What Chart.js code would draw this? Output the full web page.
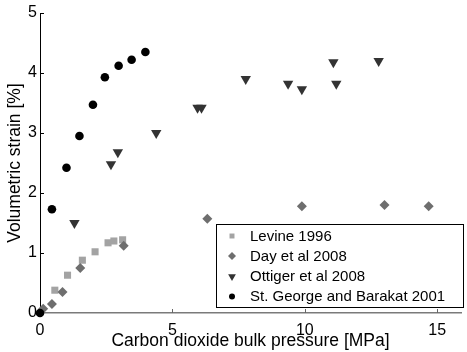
<!DOCTYPE html>
<html>
<head>
<meta charset="utf-8">
<script src="https://cdn.jsdelivr.net/npm/chart.js@4/dist/chart.umd.min.js"></script>
<style>
  html, body { margin: 0; padding: 0; background: #fff; }
  #wrap { width: 467px; height: 352px; }
</style>
</head>
<body>
<div id="wrap"><canvas id="strainChart" width="467" height="352"></canvas></div>
<script>
// series (pressure MPa, strain %)
const levineX = [0.56, 1.04, 1.6, 2.08, 2.57, 2.79, 3.12];
const levineY = [0.38, 0.63, 0.88, 1.02, 1.17, 1.2, 1.22];

const dayX = [0.12, 0.45, 0.85, 1.52, 3.16, 6.32, 9.89, 13.01, 14.68];
const dayY = [0.07, 0.15, 0.35, 0.75, 1.12, 1.57, 1.78, 1.8, 1.78];

const ottigerX = [1.3, 2.68, 2.94, 4.39, 5.95, 6.1, 7.77, 9.37, 9.89, 11.08, 11.19, 12.79];
const ottigerY = [1.5, 2.48, 2.68, 3.0, 3.42, 3.42, 3.9, 3.82, 3.73, 4.18, 3.82, 4.2];

const stGeorgeX = [0, 0.45, 1.0, 1.49, 2.0, 2.45, 2.97, 3.46, 3.98];
const stGeorgeY = [0, 1.73, 2.42, 2.95, 3.47, 3.93, 4.12, 4.22, 4.35];

const seriesLabels = ["Levine 1996", "Day et al 2008", "Ottiger et al 2008", "St. George and Barakat 2001"];
const xTicks = [0, 5, 10, 15];
const yTicks = [0, 1, 2, 3, 4, 5];

const FONT = "'Liberation Sans', Arial, sans-serif";

function pts(xs, ys) {
  return xs.map((x, i) => ({ x: x, y: ys[i] }));
}

// little inward tick marks like the original plot
const innerTicks = {
  id: "innerTicks",
  afterDraw(chart) {
    const ctx = chart.ctx;
    const xs = chart.scales.x, ys = chart.scales.y;
    const a = chart.chartArea;
    ctx.save();
    ctx.lineWidth = 1;
    ctx.strokeStyle = "#666";
    xTicks.forEach((v) => {
      if (v === 0) return;
      const px = Math.round(xs.getPixelForValue(v)) + 0.5;
      ctx.beginPath();
      ctx.moveTo(px, a.bottom);
      ctx.lineTo(px, a.bottom - 4);
      ctx.stroke();
    });
    ctx.strokeStyle = "#000";
    yTicks.forEach((v) => {
      if (v === 0) return;
      const py = Math.round(ys.getPixelForValue(v)) + 0.5;
      ctx.beginPath();
      ctx.moveTo(a.left, py);
      ctx.lineTo(a.left + 4, py);
      ctx.stroke();
    });
    ctx.restore();
  },
};

// boxed legend sitting in the lower right of the plot
const boxLegend = {
  id: "boxLegend",
  afterDraw(chart) {
    const ctx = chart.ctx;
    const left = 216.5, top = 224.5, w = 247, h = 83;
    ctx.save();
    ctx.fillStyle = "#fff";
    ctx.fillRect(left, top, w, h);
    ctx.strokeStyle = "#000";
    ctx.lineWidth = 1;
    ctx.strokeRect(left, top, w, h);
    const rowY = [236, 256, 276.5, 296.5];
    const sizes = [3.5, 4, 4.5, 3];
    chart.data.datasets.forEach((ds, i) => {
      ctx.fillStyle = ds.backgroundColor;
      ctx.strokeStyle = ds.backgroundColor;
      Chart.helpers.drawPoint(ctx, {
        pointStyle: ds.pointStyle,
        radius: sizes[i],
        rotation: ds.rotation || 0,
        borderWidth: 0,
      }, 232, rowY[i]);
      ctx.fillStyle = "#000";
      ctx.font = "15px " + FONT;
      ctx.textBaseline = "middle";
      ctx.textAlign = "left";
      ctx.fillText(ds.label, 250, rowY[i] + 0.5);
    });
    ctx.restore();
  },
};

new Chart(document.getElementById("strainChart").getContext("2d"), {
  type: "scatter",
  data: {
    datasets: [
      {
        label: seriesLabels[0],
        data: pts(levineX, levineY),
        pointStyle: "rect",
        pointRadius: 5,
        backgroundColor: "#a3a3a3",
        borderColor: "#a3a3a3",
        borderWidth: 0,
        clip: false,
        order: 4,
      },
      {
        label: seriesLabels[1],
        data: pts(dayX, dayY),
        pointStyle: "rectRot",
        pointRadius: 5,
        backgroundColor: "#6e6e6e",
        borderColor: "#6e6e6e",
        borderWidth: 0,
        clip: false,
        order: 3,
      },
      {
        label: seriesLabels[2],
        data: pts(ottigerX, ottigerY),
        pointStyle: "triangle",
        rotation: 180,
        pointRadius: 6,
        backgroundColor: "#333333",
        borderColor: "#333333",
        borderWidth: 0,
        clip: false,
        order: 2,
      },
      {
        label: seriesLabels[3],
        data: pts(stGeorgeX, stGeorgeY),
        pointStyle: "circle",
        pointRadius: 4.3,
        backgroundColor: "#000000",
        borderColor: "#000000",
        borderWidth: 0,
        clip: false,
        order: 1,
      },
    ],
  },
  options: {
    responsive: false,
    animation: false,
    layout: { padding: { top: 13, right: 0, left: 0, bottom: 0 } },
    plugins: {
      legend: { display: false },
      tooltip: { enabled: false },
    },
    scales: {
      x: {
        type: "linear",
        min: 0,
        max: 15.9,
        afterFit: (s) => { s.height = 39; },
        afterBuildTicks: (s) => { s.ticks = xTicks.map((v) => ({ value: v })); },
        grid: { display: false, drawTicks: false },
        border: { display: true, color: "#7a7a7a", width: 1.5 },
        ticks: { padding: 8, color: "#000", font: { family: FONT, size: 16 }, maxRotation: 0 },
        title: {
          display: true,
          text: "Carbon dioxide bulk pressure [MPa]",
          color: "#000",
          font: { family: FONT, size: 17.5 },
          padding: { top: 0, bottom: 0 },
        },
      },
      y: {
        type: "linear",
        min: 0,
        max: 5,
        afterFit: (s) => { s.width = 40; },
        afterBuildTicks: (s) => { s.ticks = yTicks.map((v) => ({ value: v })); },
        grid: { display: false, drawTicks: false },
        border: { display: true, color: "#000", width: 1 },
        ticks: { padding: 3, color: "#000", font: { family: FONT, size: 16 } },
        title: {
          display: true,
          text: "Volumetric strain [%]",
          color: "#000",
          font: { family: FONT, size: 17.5 },
          padding: { top: 5, bottom: 0 },
        },
      },
    },
  },
  plugins: [innerTicks, boxLegend],
});
</script>
</body>
</html>
